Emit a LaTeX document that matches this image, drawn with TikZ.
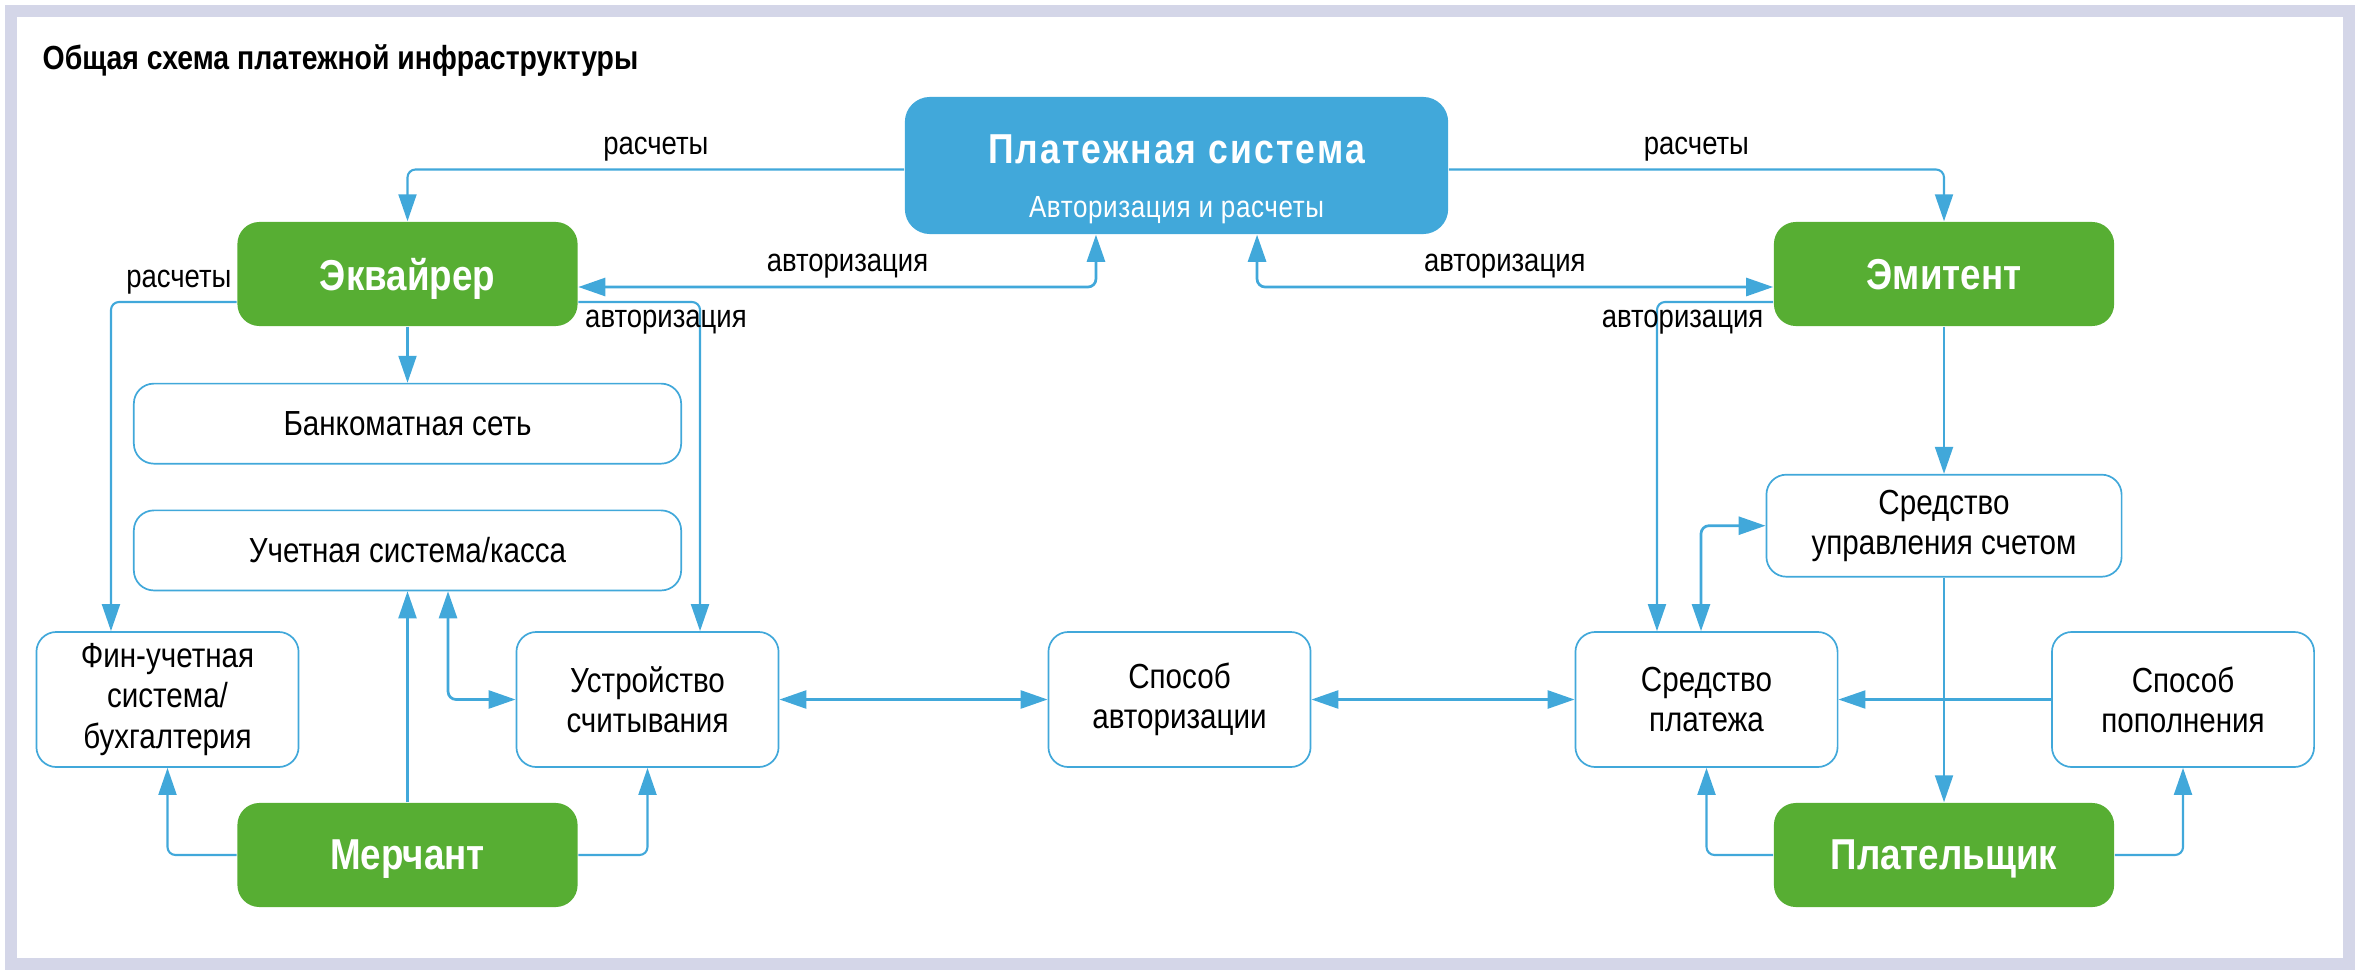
\documentclass[tikz,border=0pt]{standalone}
\usepackage{fontspec}
\setmainfont[FakeStretch=0.85]{Liberation Sans}
\usepackage{tikz}
\usetikzlibrary{arrows.meta, positioning}
\definecolor{PSBlue}{HTML}{41A8DA}
\definecolor{PSGreen}{HTML}{57AE33}
\definecolor{PSFrame}{HTML}{D4D6E8}

\begin{document}
\begin{tikzpicture}[
    x=0.01cm, y=-0.01cm,
    font=\fontsize{9.9}{11.4}\selectfont,
    >={Triangle[length=0.27cm, width=0.18cm]},
    core/.style = {
        rectangle, rounded corners=0.25cm,
        minimum width=5.43cm, minimum height=1.37cm,
        fill=PSBlue, text=white, align=center, inner sep=0pt,
        font=\fontsize{11.9}{15.4}\selectfont
    },
    party/.style = {
        rectangle, rounded corners=0.22cm,
        minimum width=3.4cm, minimum height=1.04cm,
        fill=PSGreen, text=white, text depth=0pt,
        font=\fontsize{12.3}{14}\selectfont\bfseries, inner sep=0pt
    },
    unit/.style = {
        rectangle, rounded corners=0.2cm,
        minimum width=2.62cm, minimum height=1.35cm,
        draw=PSBlue, line width=0.017cm, fill=white,
        align=center, inner sep=0pt
    },
    wideunit/.style = {unit, minimum width=5.47cm, minimum height=0.8cm},
    link/.style = {->, PSBlue, line width=0.021cm, rounded corners=0.08cm},
    duplex/.style = {<->, PSBlue, line width=0.027cm, rounded corners=0.08cm},
    tag/.style = {font=\fontsize{9.2}{11}\selectfont, text=black, inner sep=2pt}
]
\useasboundingbox (0,0) rectangle (2358,976);

% ===== FRAME AND TITLE =====
\draw[PSFrame, line width=0.12cm] (11,11) rectangle (2349,964);
\node[anchor=base west, inner sep=0pt, font=\fontsize{9.5}{12}\selectfont\bfseries]
    (title) at (42,70) {Общая схема платежной инфраструктуры};

% ===== PAYMENT SYSTEM =====
\node[core] (pay) at (1176.5,165.5) {%
    {\bfseries\addfontfeature{LetterSpace=5}\rule{0pt}{15.9pt}Платежная система}\\
    {\fontsize{8.7}{10}\selectfont\addfontfeature{LetterSpace=2}Авторизация и расчеты}
};

% ===== ACQUIRER SIDE =====
\node[party] (acq) at (407.5,274) {Эквайрер};
\node[wideunit, below=0.56cm of acq] (atm) {Банкоматная сеть};
\node[wideunit, below=0.45cm of atm] (acc) {Учетная система/касса};
\node[unit] (fin) at (167.5,699.5) {Фин-учетная\\система/\\бухгалтерия};
\node[unit] (reader) at (647.5,699.5) {Устройство\\считывания};
\node[party] (merch) at (407.5,855) {Мерчант};

% ===== MIDDLE =====
\node[unit] (meth) at (1179.5,699.5) {Способ\\авторизации};

% ===== ISSUER SIDE =====
\node[party] (iss) at (1944,274) {Эмитент};
\node[unit, minimum width=3.55cm, minimum height=1.02cm, below=1.47cm of iss]
    (mgmt) {Средство\\управления счетом};
\node[unit] (instr) at (1706.5,699.5) {Средство\\платежа};
\node[unit] (topup) at (2183,699.5) {Способ\\пополнения};
\node[party] (payer) at (1944,855) {Плательщик};

% ===== ARROWS =====
\draw[link] ([yshift=-0.04cm]pay.west) -| node[tag, above, pos=0.25] {расчеты} (acq.north);
\draw[link] ([yshift=-0.04cm]pay.east) -| node[tag, above, pos=0.25] {расчеты} (iss.north);
\draw[duplex] ([yshift=-0.13cm]acq.east) -| node[tag, above, pos=0.26] {авторизация} ([xshift=-0.805cm]pay.south);
\draw[duplex] ([yshift=-0.13cm]iss.west) -| node[tag, above, pos=0.26] {авторизация} ([xshift=0.805cm]pay.south);

\draw[link] ([yshift=-0.28cm]acq.west) -| node[tag, above, pos=0.23] {расчеты} ([xshift=-0.565cm]fin.north);
\draw[link] ([yshift=-0.28cm]acq.east) -| node[tag, below, pos=0.36] {авторизация} ([xshift=0.525cm]reader.north);
\draw[link] (acq) -- (atm);

\draw[link] ([yshift=-0.28cm]iss.west) -| node[tag, below, pos=0.39] {авторизация} ([xshift=-0.495cm]instr.north);
\draw[link] (iss) -- (mgmt);
\draw[link] (mgmt) -- (payer);
\draw[duplex] (mgmt.west) -| ([xshift=-0.055cm]instr.north);
\draw[link] (topup) -- (instr);

\draw[duplex] (reader) -- (meth);
\draw[duplex] (meth) -- (instr);

\draw[link] (merch.west) -| (fin.south);
\draw[link] (merch) -- (acc);
\draw[link] (merch.east) -| (reader.south);
\draw[duplex] ([xshift=0.405cm]acc.south) |- (reader.west);

\draw[link] (payer.west) -| (instr.south);
\draw[link] (payer.east) -| (topup.south);
\end{tikzpicture}
\end{document}
